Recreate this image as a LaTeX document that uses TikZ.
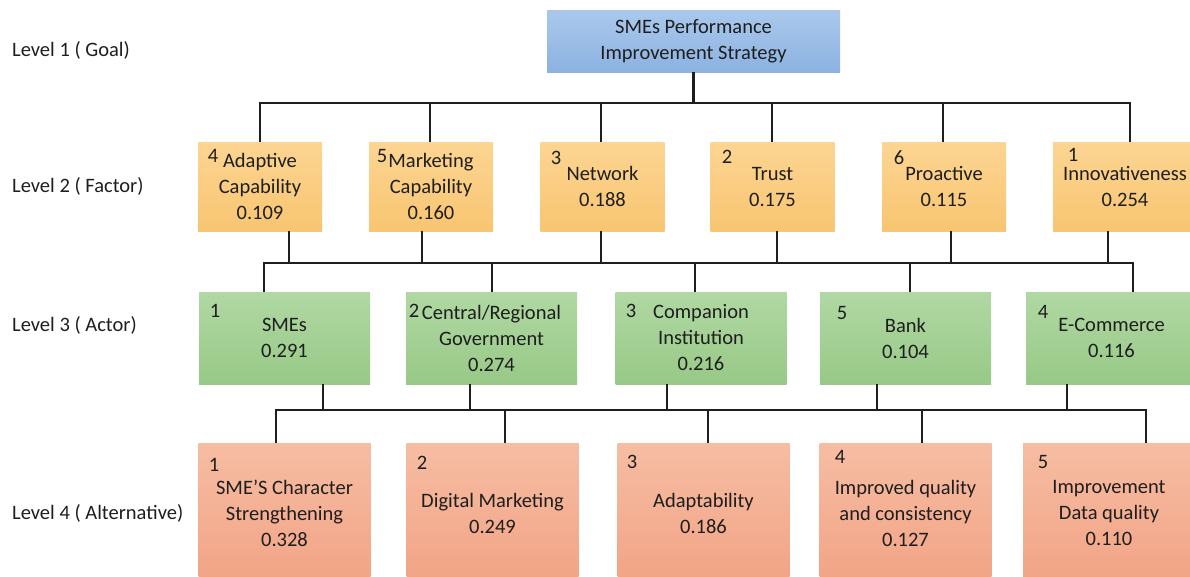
\documentclass[tikz,border=0pt]{standalone}
\usepackage{fontspec}
\setmainfont{Carlito}
\usepackage{tikz}
\usetikzlibrary{positioning}

\definecolor{cInk}      {HTML}{1E1E1E}
\definecolor{cGoalTop}  {HTML}{AAC8EC}
\definecolor{cGoalBot}  {HTML}{8CB2E1}
\definecolor{cFactorTop}{HTML}{FCD592}
\definecolor{cFactorBot}{HTML}{F8C571}
\definecolor{cActorTop} {HTML}{B0D8A3}
\definecolor{cActorBot} {HTML}{98C987}
\definecolor{cAltTop}   {HTML}{F6BDA3}
\definecolor{cAltBot}   {HTML}{F2A385}

\tikzset{
  txt/.style={font=\fontsize{20.5}{26}\selectfont, text=cInk},
  box/.style={txt, align=center, inner sep=0pt, draw=none},
  goalbox/.style={box, top color=cGoalTop, bottom color=cGoalBot,
                  minimum width=293, minimum height=62},
  factor/.style={box, top color=cFactorTop, bottom color=cFactorBot,
                 minimum width=124, minimum height=89},
  actor/.style={box, top color=cActorTop, bottom color=cActorBot,
                minimum width=171, minimum height=92},
  alt/.style={box, top color=cAltTop, bottom color=cAltBot,
              minimum width=172, minimum height=140},
  rank/.style={txt, inner sep=0pt},
  level/.style={txt, anchor=west, inner sep=0pt},
  link/.style={draw=cInk, line width=2.8pt},
}

\begin{document}
\begin{tikzpicture}[x=1pt, y=-1pt]
  \useasboundingbox (0,0) rectangle (1190,576);
  \clip (0,0) rectangle (1190,576);

  % level captions
  \node[level] (lv1) at (12, 50) {Level 1 ( Goal)};
  \node[level] (lv2) at (12,186) {Level 2 ( Factor)};
  \node[level] (lv3) at (12,325) {Level 3 ( Actor)};
  \node[level] (lv4) at (12,513) {Level 4 ( Alternative)};

  % goal
  \node[goalbox] (goal) at (693.5,41) {SMEs Performance\\Improvement Strategy};

  % factors
  \node[factor] (ad)  at (260,186.5)   {Adaptive\\Capability\\0.109};
  \node[factor] (mk)  at (431,186.5)   {Marketing\\Capability\\0.160};
  \node[factor] (nw)  at (602.5,186.5) {Network\\0.188};
  \node[factor] (tr)  at (772.5,186.5) {Trust\\0.175};
  \node[factor] (pr)  at (944,186.5)   {Proactive\\0.115};
  \node[factor, minimum width=144] (inv) at (1125,186.5) {Innovativeness\\0.254};
  \node[rank] (ad-r)  at (213,156)  {4};
  \node[rank] (mk-r)  at (382,156)  {5};
  \node[rank] (nw-r)  at (556,158)  {3};
  \node[rank] (tr-r)  at (727,157)  {2};
  \node[rank] (pr-r)  at (899,158)  {6};
  \node[rank] (inv-r) at (1073,155) {1};

  % actors
  \node[actor] (sm) at (284.5,338) {SMEs\\0.291};
  \node[actor] (gv) at (491.5,338) {Central/Regional\\Government\\0.274};
  \node[actor] (cp) at (701,338)   {Companion\\Institution\\0.216};
  \node[actor] (bk) at (905.5,338) {Bank\\0.104};
  \node[actor] (ec) at (1111.5,338) {E-Commerce\\0.116};
  \node[rank] (sm-r) at (215,311)  {1};
  \node[rank] (gv-r) at (414,311)  {2};
  \node[rank] (cp-r) at (631,311)  {3};
  \node[rank] (bk-r) at (842,313)  {5};
  \node[rank] (ec-r) at (1043,312) {4};

  % alternatives
  \node[alt] (a1) at (284.5,513) {SME’S Character\\Strengthening\\0.328};
  \node[alt] (a2) at (492.5,513) {Digital Marketing\\0.249};
  \node[alt] (a3) at (703.5,513) {Adaptability\\0.186};
  \node[alt] (a4) at (905.5,513) {Improved quality\\and consistency\\0.127};
  \node[alt] (a5) at (1109,513)  {Improvement\\Data quality\\0.110};
  \node[rank] (a1-r) at (214,465)  {1};
  \node[rank] (a2-r) at (422,463)  {2};
  \node[rank] (a3-r) at (632,462)  {3};
  \node[rank] (a4-r) at (840,457)  {4};
  \node[rank] (a5-r) at (1043,462) {5};

  % bus heights
  \coordinate (bus1) at (0,103);
  \coordinate (bus2) at (0,263);
  \coordinate (bus3) at (0,410);

  % where the lines leave and enter the boxes
  \foreach \n/\dx in {ad/0, mk/-1, nw/-1.5, tr/-0.5, pr/-1, inv/5,
                      sm/-20.5, gv/0.5, cp/-6, bk/4.5, ec/21.5,
                      a1/-8.5, a2/12.5, a3/4.5, a4/16.5, a5/37}
    \coordinate (\n-up) at ([xshift=\dx]\n.north);
  \foreach \n/\dx in {ad/29, mk/-9, nw/-1.5, tr/4.5, pr/7, inv/-17,
                      sm/38.5, gv/-21.5, cp/-34, bk/-28.5, ec/-44.5}
    \coordinate (\n-dn) at ([xshift=\dx]\n.south);

  % goal -> factors
  \draw[link] (goal.south) -- (goal.south |- bus1);
  \draw[link] (ad-up) |- (inv-up |- bus1) -- (inv-up);
  \foreach \n in {mk,nw,tr,pr}
    \draw[link] (\n-up) -- (\n-up |- bus1);

  % factors -> actors
  \draw[link] (sm-up) |- (ec-up |- bus2) -- (ec-up);
  \foreach \n in {gv,cp,bk}
    \draw[link] (\n-up) -- (\n-up |- bus2);
  \foreach \n in {ad,mk,nw,tr,pr,inv}
    \draw[link] (\n-dn) -- (\n-dn |- bus2);

  % actors -> alternatives
  \draw[link] (a1-up) |- (a5-up |- bus3) -- (a5-up);
  \foreach \n in {a2,a3,a4}
    \draw[link] (\n-up) -- (\n-up |- bus3);
  \foreach \n in {sm,gv,cp,bk,ec}
    \draw[link] (\n-dn) -- (\n-dn |- bus3);
\end{tikzpicture}
\end{document}
